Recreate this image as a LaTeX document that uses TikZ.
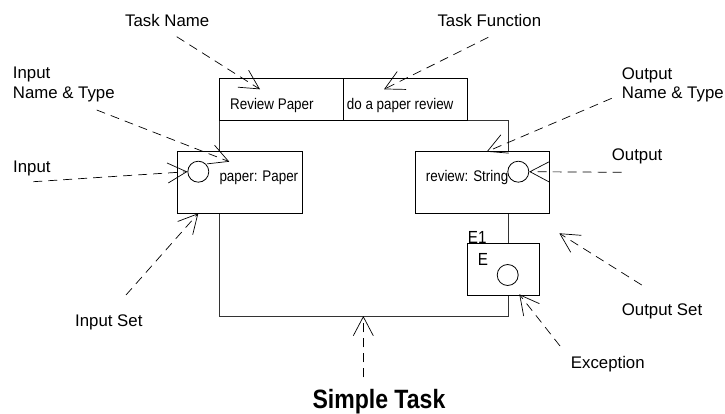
\documentclass[tikz,border=0pt]{standalone}
\usepackage{fontspec}
\setmainfont{Liberation Sans}
\newfontfamily\narrowfont[FakeStretch=0.87]{Liberation Sans}
\usetikzlibrary{arrows.meta}
\begin{document}
\begin{tikzpicture}[x=1pt,y=-1pt,
  box/.style={draw, fill=white, line width=0.8pt, rectangle, inner sep=0pt, anchor=north west},
  lbl/.style={inner sep=0pt, anchor=base west, font=\fontsize{16.8}{20}\selectfont},
  inlbl/.style={inner sep=0pt, anchor=base west, font=\narrowfont\fontsize{15.4}{18}\selectfont},
  elbl/.style={inner sep=0pt, anchor=base west, font=\narrowfont\fontsize{17.5}{20}\selectfont},
  pointer/.style={dash pattern=on 9pt off 6pt, line width=0.7pt, -{Straight Barb[length=19pt,width=20pt]}},
  port/.style={circle, draw, fill=white, minimum size=21pt, inner sep=0pt, line width=0.8pt}
]
\useasboundingbox (0,0) rectangle (725,414);

% task frame
\draw[line width=0.8pt, draw=black!80] (219,120) rectangle (508,316);

% boxes
\node[box, minimum width=124pt, minimum height=42pt] (tname) at (219,78) {};
\node[box, minimum width=124pt, minimum height=42pt] (tfunc) at (343,78) {};
\node[box, minimum width=125pt, minimum height=62pt] (inset) at (177,151) {};
\node[box, minimum width=134pt, minimum height=62pt] (outset) at (415,151) {};
\node[box, minimum width=72pt, minimum height=52pt] (exc) at (467,243) {};

% ports
\node[port] (inport) at (198.3,171.7) {};
\node[port] (outport) at (518.3,171.7) {};
\node[port] (excport) at (507.7,275) {};

% inner texts
\node[inlbl] (tnametxt) at (230,109.3) {Review Paper};
\node[inlbl] (tfunctxt) at (346.7,109.3) {do a paper review};
\node[inlbl] (intxt) at (219.3,181.7) {paper: Paper};
\node[inlbl] (outtxt) at (425.7,182) {review: String};
\node[elbl] (e1) at (467.7,243.3) {E1};
\node[elbl] (etxt) at (477.7,265) {E};

% outer labels
\node[lbl] (lTN) at (125,27) {Task Name};
\node[lbl] (lTF) at (437.3,27) {Task Function};
\node[lbl] (lINT1) at (12.7,79) {Input};
\node[lbl] (lINT2) at (12.7,99) {Name \& Type};
\node[lbl] (lIN) at (13,173) {Input};
\node[lbl] (lONT1) at (621.7,80) {Output};
\node[lbl] (lONT2) at (621.7,99) {Name \& Type};
\node[lbl] (lOUT) at (611.7,161) {Output};
\node[lbl] (lIS) at (75,326.7) {Input Set};
\node[lbl] (lOS) at (621.7,315) {Output Set};
\node[lbl] (lEX) at (570.7,368.3) {Exception};
\node[inner sep=0pt, anchor=base west, font=\narrowfont\bfseries\fontsize{26.5}{30}\selectfont] (lST) at (312.3,408.3) {Simple Task};

% pointer ends
\coordinate (sTN) at (176.7,36.7);   \coordinate (tTN) at (260,89.3);
\coordinate (sTF) at (488.3,37.3);   \coordinate (tTF) at (384,89.3);
\coordinate (sINT) at (96.7,110);    \coordinate (tINT) at (229.3,161.7);
\coordinate (sIN) at (33.3,181.7);
\coordinate (sONT) at (611.7,98.3);  \coordinate (tONT) at (486.7,151.7);
\coordinate (sOUT) at (621.7,172.3);
\coordinate (sIS) at (126,295);      \coordinate (tIS) at (198.3,213.3);
\coordinate (sOS) at (641.7,285);    \coordinate (tOS) at (559.3,233.3);
\coordinate (sEX) at (560,346);      \coordinate (tEX) at (519.3,294.3);
\coordinate (sST) at (363.3,377.3);  \coordinate (tST) at (363.3,316);

\draw[pointer] (sTN) -- (tTN);
\draw[pointer] (sTF) -- (tTF);
\draw[pointer] (sINT) -- (tINT);
\draw[pointer] (sIN) -- (inport.west);
\draw[pointer] (sONT) -- (tONT);
\draw[pointer] (sOUT) -- (outport.east);
\draw[pointer] (sIS) -- (tIS);
\draw[pointer] (sOS) -- (tOS);
\draw[pointer] (sEX) -- (tEX);
\draw[pointer] (sST) -- (tST);
\end{tikzpicture}
\end{document}
